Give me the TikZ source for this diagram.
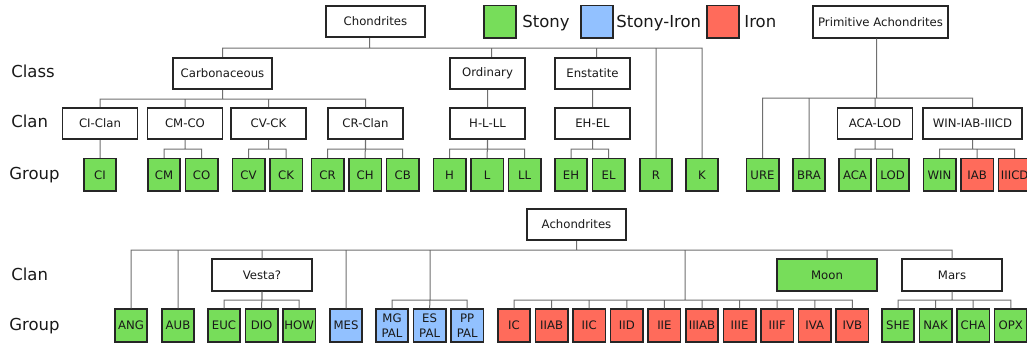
\documentclass[tikz,border=0pt]{standalone}
\usepackage{fontspec}
\setmainfont{DejaVu Sans}
\usetikzlibrary{positioning}
\definecolor{stonygreen}{HTML}{77DD5A}
\definecolor{sironblue}{HTML}{92C1FF}
\definecolor{ironred}{HTML}{FF6B5B}
\definecolor{linkgray}{HTML}{707070}
\tikzset{every picture/.style={line width=0.75pt}}

\begin{document}
\begin{tikzpicture}[x=1pt,y=-1pt,node distance=3.6pt,
        box/.style={draw=black!85,line width=1.6pt,fill=white,inner sep=0pt,
            minimum height=31.5pt,text=black!90,font=\fontsize{11.7}{14.5}\selectfont},
        wide/.style={box,minimum width=99.5pt},
        clan/.style={box,minimum width=75pt},
        grp/.style={box,minimum width=32.4pt,minimum height=32.6pt,align=center},
        stony/.style={grp,fill=stonygreen},
        siron/.style={grp,fill=sironblue},
        iron/.style={grp,fill=ironred},
        rowlabel/.style={anchor=base west,inner sep=0pt,text=black!90,font=\fontsize{16.5}{18}\selectfont},
        link/.style={draw=linkgray,line width=1pt}]
    \useasboundingbox (0,0) rectangle (1027,347);
    \fill[white] (0,0) rectangle (1027,347);

    % legend
    \node[stony] (kstony) at (500,22) {};
    \node[rowlabel] (tstony) at (522,28) {Stony};
    \node[siron] (ksiron) at (597,22) {};
    \node[rowlabel] (tsiron) at (616,28) {Stony-Iron};
    \node[iron] (kiron) at (723,22) {};
    \node[rowlabel] (tiron) at (744,28) {Iron};

    % row labels
    \node[rowlabel] (lclass) at (11,77.5) {Class};
    \node[rowlabel] (lclan) at (11,128) {Clan};
    \node[rowlabel] (lgroup) at (9,179.5) {Group};
    \node[rowlabel] (lclanb) at (11,280) {Clan};
    \node[rowlabel] (lgroupb) at (9,330) {Group};

    % chondrites
    \node[wide] (chon) at (375.5,21.5) {Chondrites};
    \node[wide] (carb) at (222.5,73.5) {Carbonaceous};
    \node[clan] (ord) at (487.5,73.5) {Ordinary};
    \node[clan] (ens) at (592.5,73.5) {Enstatite};

    \node[clan] (ciclan) at (100,123.5) {CI-Clan};
    \node[clan] (cmco) at (185,123.5) {CM-CO};
    \node[clan] (cvck) at (268.5,123.5) {CV-CK};
    \node[clan] (crclan) at (365.5,123.5) {CR-Clan};
    \node[clan] (hlll) at (487.5,123.5) {H-L-LL};
    \node[clan] (ehel) at (592.5,123.5) {EH-EL};

    \node[stony] (CI) at (100,175) {CI};
    \node[stony] (CM) at (164,175) {CM};
    \node[stony,right=of CM] (CO) {CO};
    \node[stony] (CV) at (248.5,175) {CV};
    \node[stony,right=of CV] (CK) {CK};
    \node[stony] (CR) at (327.5,175) {CR};
    \node[stony,right=of CR] (CH) {CH};
    \node[stony,right=of CH] (CB) {CB};
    \node[stony] (H) at (449.5,175) {H};
    \node[stony,right=of H] (L) {L};
    \node[stony,right=of L] (LL) {LL};
    \node[stony] (EH) at (571,175) {EH};
    \node[stony,right=of EH] (EL) {EL};
    \node[stony] (R) at (656,175) {R};
    \node[stony] (K) at (702,175) {K};

    % primitive achondrites
    \node[box,minimum width=134.5pt] (prim) at (880.5,22) {Primitive Achondrites};
    \node[clan] (acalod) at (875,123.5) {ACA-LOD};
    \node[wide] (winiab) at (972.5,123.5) {WIN-IAB-IIICD};

    \node[stony] (URE) at (762.5,175) {URE};
    \node[stony] (BRA) at (809,175) {BRA};
    \node[stony] (ACA) at (855,175) {ACA};
    \node[stony,right=of ACA] (LOD) {LOD};
    \node[stony] (WIN) at (939.5,175) {WIN};
    \node[iron,right=of WIN] (IAB) {IAB};
    \node[iron,right=of IAB] (IIICD) {IIICD};

    % achondrites
    \node[wide] (achon) at (576.5,224.5) {Achondrites};
    \node[wide] (vesta) at (262,275) {Vesta?};
    \node[wide,fill=stonygreen] (moon) at (827,275) {Moon};
    \node[wide] (mars) at (952,275) {Mars};
    \coordinate (pal) at (430,300);
    \coordinate (irons) at (685,300);

    \node[stony] (ANG) at (131,325.5) {ANG};
    \node[stony] (AUB) at (178,325.5) {AUB};
    \node[stony] (EUC) at (224,325.5) {EUC};
    \node[stony,right=of EUC] (DIO) {DIO};
    \node[stony,right=of DIO] (HOW) {HOW};
    \node[siron] (MES) at (346,325.5) {MES};
    \node[siron] (MGPAL) at (392,325.5) {MG\\PAL};
    \node[siron,right=of MGPAL] (ESPAL) {ES\\PAL};
    \node[siron,right=of ESPAL] (PPPAL) {PP\\PAL};
    \node[iron] (IC) at (514,325.5) {IC};
    \node[iron,right=of IC] (IIAB) {IIAB};
    \node[iron,right=of IIAB] (IIC) {IIC};
    \node[iron,right=of IIC] (IID) {IID};
    \node[iron,right=of IID] (IIE) {IIE};
    \node[iron,right=of IIE] (IIIAB) {IIIAB};
    \node[iron,right=of IIIAB] (IIIE) {IIIE};
    \node[iron,right=of IIIE] (IIIF) {IIIF};
    \node[iron,right=of IIIF] (IVA) {IVA};
    \node[iron,right=of IVA] (IVB) {IVB};
    \node[stony] (SHE) at (898,325.5) {SHE};
    \node[stony,right=of SHE] (NAK) {NAK};
    \node[stony,right=of NAK] (CHA) {CHA};
    \node[stony,right=of CHA] (OPX) {OPX};

    \draw[link]
        ([xshift=-6pt]chon.south) -- ++(0,10) -| (carb.north)
        ([xshift=-6pt]chon.south) -- ++(0,10) -| ([xshift=4pt]ord.north)
        ([xshift=-6pt]chon.south) -- ++(0,10) -| ([xshift=4pt]ens.north)
        ([xshift=-6pt]chon.south) -- ++(0,10) -| (R.north)
        ([xshift=-6pt]chon.south) -- ++(0,10) -| (K.north)
        (carb.south) -- ++(0,9) -| (ciclan.north)
        (carb.south) -- ++(0,9) -| (cmco.north)
        (carb.south) -- ++(0,9) -| (cvck.north)
        (carb.south) -- ++(0,9) -| (crclan.north)
        (ord.south) -- (hlll.north)
        (ens.south) -- (ehel.north)
        (ciclan.south) -- (CI.north)
        (cmco.south) -- ++(0,9) -| (CM.north)
        (cmco.south) -- ++(0,9) -| (CO.north)
        (cvck.south) -- ++(0,9) -| (CV.north)
        (cvck.south) -- ++(0,9) -| (CK.north)
        (crclan.south) -- ++(0,9) -| (CR.north)
        (crclan.south) -- (CH.north)
        (crclan.south) -- ++(0,9) -| (CB.north)
        (hlll.south) -- ++(0,9) -| (H.north)
        (hlll.south) -- (L.north)
        (hlll.south) -- ++(0,9) -| (LL.north)
        (ehel.south) -- ++(0,9) -| (EH.north)
        (ehel.south) -- ++(0,9) -| (EL.north)
        ([xshift=-4pt]prim.south) -- ++(0,59.5) -| (URE.north)
        ([xshift=-4pt]prim.south) -- ++(0,59.5) -| (BRA.north)
        ([xshift=-4pt]prim.south) -- ++(0,59.5) -| (acalod.north)
        ([xshift=-4pt]prim.south) -- ++(0,59.5) -| (winiab.north)
        (acalod.south) -- ++(0,9) -| (ACA.north)
        (acalod.south) -- ++(0,9) -| (LOD.north)
        (winiab.south) -- ++(0,9) -| (WIN.north)
        (winiab.south) -- ++(0,9) -| (IAB.north)
        (winiab.south) -- ++(0,9) -| (IIICD.north)
        ;

    \draw[link]
        (achon.south) -- ++(0,9) -| (ANG.north)
        (achon.south) -- ++(0,9) -| (AUB.north)
        (achon.south) -- ++(0,9) -| (vesta.north)
        (achon.south) -- ++(0,9) -| (MES.north)
        (achon.south) -- ++(0,9) -| (pal)
        (achon.south) -- ++(0,9) -| (irons)
        (achon.south) -- ++(0,9) -| (moon.north)
        (achon.south) -- ++(0,9) -| (mars.north)
        (vesta.south) -- ++(0,8.5) -| (EUC.north)
        (vesta.south) -- (DIO.north)
        (vesta.south) -- ++(0,8.5) -| (HOW.north)
        (pal) -| (MGPAL.north)
        (pal) -- (ESPAL.north)
        (pal) -| (PPPAL.north)
        (irons) -| (IC.north)
        (irons) -| (IIAB.north)
        (irons) -| (IIC.north)
        (irons) -| (IID.north)
        (irons) -| (IIE.north)
        (irons) -| (IIIAB.north)
        (irons) -| (IIIE.north)
        (irons) -| (IIIF.north)
        (irons) -| (IVA.north)
        (irons) -| (IVB.north)
        (mars.south) -- ++(0,8.5) -| (SHE.north)
        (mars.south) -- ++(0,8.5) -| (NAK.north)
        (mars.south) -- ++(0,8.5) -| (CHA.north)
        (mars.south) -- ++(0,8.5) -| (OPX.north)
        ;
\end{tikzpicture}
\end{document}
